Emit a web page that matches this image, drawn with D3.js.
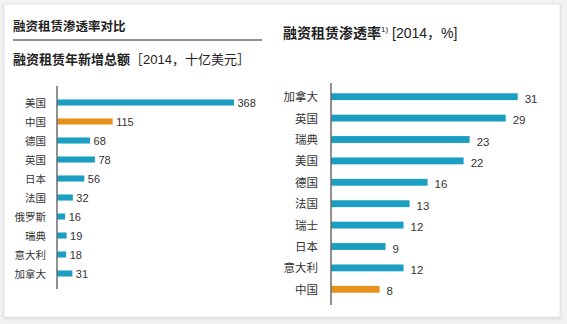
<!DOCTYPE html>
<html><head><meta charset="utf-8">
<script src="https://cdn.jsdelivr.net/npm/d3@7"></script>
<style>
html,body{margin:0;padding:0;background:#f2f2f2;}
svg{display:block;font-family:"Liberation Sans","Noto Sans CJK SC",sans-serif;}
</style></head>
<body><svg id="c" width="567" height="324"></svg>
<script>
const leftCategories = ["美国","中国","德国","英国","日本","法国","俄罗斯","瑞典","意大利","加拿大"];
const leftValues = [368,115,68,78,56,32,16,19,18,31];
const rightCategories = ["加拿大","英国","瑞典","美国","德国","法国","瑞士","日本","意大利","中国"];
const rightValues = [31,29,23,22,16,13,12,9,12,8];
const highlight = "中国";
const mainTitle = "融资租赁渗透率对比";
const leftTitle = "融资租赁年新增总额";
const leftTitleTail = "［2014，十亿美元］";
const rightTitle = "融资租赁渗透率";
const rightTitleTail = " [2014，%]";

const BLUE = "#1a9fc2", ORANGE = "#e8901c", TXT = "#333";
const svg = d3.select("#c");
const defs = svg.append("defs");
const f = defs.append("filter").attr("id","sh").attr("x","-5%").attr("y","-5%").attr("width","110%").attr("height","110%");
f.append("feDropShadow").attr("dx",0).attr("dy",1).attr("stdDeviation",1.2).attr("flood-color","#000").attr("flood-opacity",0.15);
svg.append("rect").attr("x",4).attr("y",4).attr("width",556).attr("height",313).attr("fill","#fff").attr("stroke","#e4e4e4").attr("filter","url(#sh)");

// Left panel
svg.append("text").attr("x",13).attr("y",31).attr("font-size",12.5).attr("font-weight","bold").attr("fill","#222").text(mainTitle);
svg.append("line").attr("x1",13).attr("x2",262).attr("y1",40).attr("y2",40).attr("stroke","#222").attr("stroke-width",1);
const lt = svg.append("text").attr("x",13).attr("y",64).attr("font-size",13).attr("fill","#222");
lt.append("tspan").attr("font-weight","bold").text(leftTitle);
lt.append("tspan").text(leftTitleTail);

const ly = d3.scaleBand().domain(leftCategories).range([93,283]).paddingInner(0.68).paddingOuter(0.34);
const lx = d3.scaleLinear().domain([0,368]).range([57.5,234]);
const gl = svg.append("g");
gl.selectAll("rect").data(leftCategories).join("rect")
  .attr("x",lx(0)).attr("y",d=>ly(d)).attr("height",ly.bandwidth())
  .attr("width",(d,i)=>lx(leftValues[i])-lx(0))
  .attr("fill",d=>d===highlight?ORANGE:BLUE);
gl.selectAll("text.v").data(leftCategories).join("text").attr("class","v")
  .attr("x",(d,i)=>lx(leftValues[i])+3.5).attr("y",d=>ly(d)+ly.bandwidth()/2+4.5)
  .attr("font-size",11).attr("fill",TXT).text((d,i)=>leftValues[i]);
gl.selectAll("text.c").data(leftCategories).join("text").attr("class","c")
  .attr("x",46).attr("y",d=>ly(d)+ly.bandwidth()/2+4).attr("text-anchor","end")
  .attr("font-size",10.5).attr("fill",TXT).text(d=>d);
svg.append("line").attr("x1",57).attr("x2",57).attr("y1",86).attr("y2",289).attr("stroke","#222").attr("stroke-width",1);

// Right panel
const rt = svg.append("text").attr("x",283).attr("y",38).attr("font-size",14).attr("fill","#222");
rt.append("tspan").attr("font-weight","bold").text(rightTitle);
rt.append("tspan").attr("font-size",8).attr("dy",-6).text("1)");
rt.append("tspan").attr("dy",6).text(rightTitleTail);

const ry = d3.scaleBand().domain(rightCategories).range([86,300]).paddingInner(0.68).paddingOuter(0.34);
const rx = d3.scaleLinear().domain([0,31]).range([331.5,517.7]);
const gr = svg.append("g");
gr.selectAll("rect").data(rightCategories).join("rect")
  .attr("x",rx(0)).attr("y",d=>ry(d)).attr("height",ry.bandwidth())
  .attr("width",(d,i)=>rx(rightValues[i])-rx(0))
  .attr("fill",d=>d===highlight?ORANGE:BLUE);
gr.selectAll("text.v").data(rightCategories).join("text").attr("class","v")
  .attr("x",(d,i)=>rx(rightValues[i])+7).attr("y",d=>ry(d)+ry.bandwidth()/2+6)
  .attr("font-size",11.5).attr("fill",TXT).text((d,i)=>rightValues[i]);
gr.selectAll("text.c").data(rightCategories).join("text").attr("class","c")
  .attr("x",318).attr("y",d=>ry(d)+ry.bandwidth()/2+4.5).attr("text-anchor","end")
  .attr("font-size",11.5).attr("fill",TXT).text(d=>d);
svg.append("line").attr("x1",331).attr("x2",331).attr("y1",83).attr("y2",305).attr("stroke","#222").attr("stroke-width",1);
</script></body></html>
